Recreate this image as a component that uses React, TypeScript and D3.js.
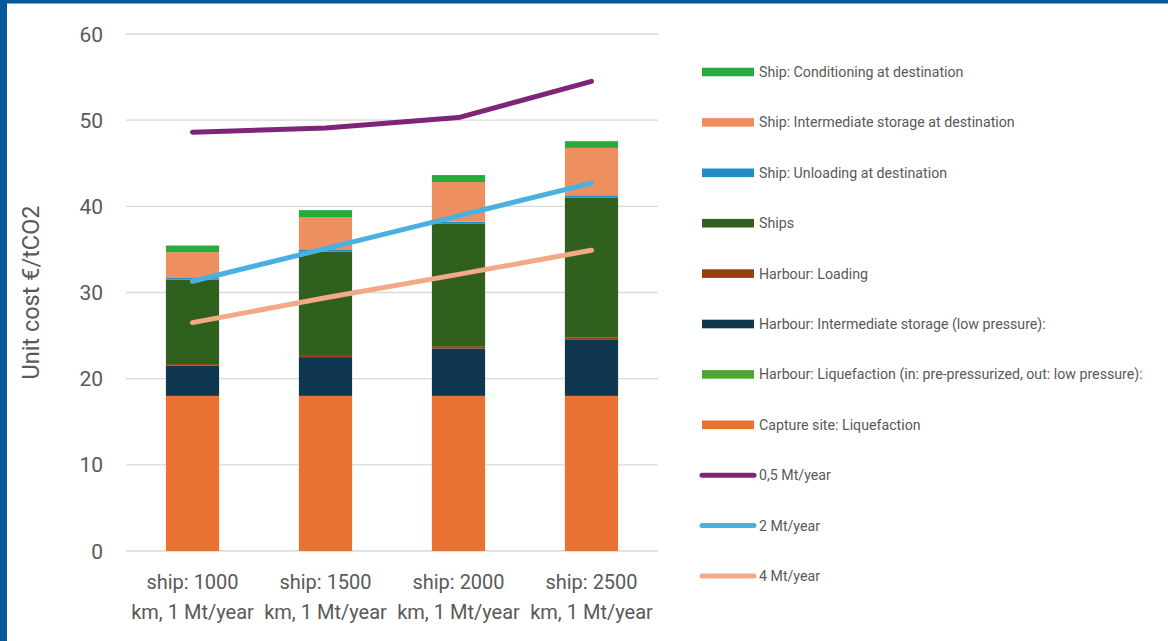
import React from "react";
import * as d3 from "d3";

const categories = [
  "ship: 1000 km, 1 Mt/year",
  "ship: 1500 km, 1 Mt/year",
  "ship: 2000 km, 1 Mt/year",
  "ship: 2500 km, 1 Mt/year",
];

// stacked series, bottom to top
const seriesNames = [
  "Capture site: Liquefaction",
  "Harbour: Liquefaction (in: pre-pressurized, out: low pressure):",
  "Harbour: Intermediate storage (low pressure):",
  "Harbour: Loading",
  "Ships",
  "Ship: Unloading at destination",
  "Ship: Intermediate storage at destination",
  "Ship: Conditioning at destination",
];
const seriesColors = [
  "#E97132",
  "#4EA72E",
  "#0F374F",
  "#973F10",
  "#2F601D",
  "#1F8DC6",
  "#EE8F5F",
  "#2AAA3C",
];

const captureLiquefaction = [18, 18, 18, 18];
const harbourLiquefaction = [0, 0, 0, 0];
const harbourStorage = [3.5, 4.5, 5.5, 6.5];
const harbourLoading = [0.2, 0.25, 0.27, 0.3];
const ships = [9.8, 12.0, 14.2, 16.2];
const shipUnloading = [0.18, 0.26, 0.25, 0.28];
const shipStorage = [3.0, 3.75, 4.6, 5.5];
const shipConditioning = [0.77, 0.8, 0.81, 0.78];

const seriesValues = [
  captureLiquefaction,
  harbourLiquefaction,
  harbourStorage,
  harbourLoading,
  ships,
  shipUnloading,
  shipStorage,
  shipConditioning,
];

const lineNames = ["0,5 Mt/year", "2 Mt/year", "4 Mt/year"];
const lineColors = ["#7E2479", "#49B0E1", "#F3A987"];
const line05 = [48.6, 49.1, 50.3, 54.5];
const line2 = [31.3, 35.1, 38.9, 42.7];
const line4 = [26.5, 29.4, 32.1, 34.9];
const lineValues = [line05, line2, line4];

const yTicks = [0, 10, 20, 30, 40, 50, 60];
const yTitle = "Unit cost €/tCO2";

const FONT = "Roboto, 'Noto Sans', sans-serif";
const TEXT = "#595959";

export default function App() {
  const W = 1168;
  const H = 641;
  const x = d3
    .scaleBand<string>()
    .domain(categories)
    .range([126, 658])
    .paddingInner(0.6)
    .paddingOuter(0.3);
  const y = d3.scaleLinear().domain([0, 60]).range([551, 34]);

  const table = categories.map((c, i) => {
    const row: Record<string, number | string> = { cat: c };
    seriesNames.forEach((s, k) => (row[s] = seriesValues[k][i]));
    return row;
  });
  const stacked = d3.stack<any>().keys(seriesNames)(table);

  const lineGen = d3
    .line<number>()
    .x((_, i) => (x(categories[i]) as number) + x.bandwidth() / 2)
    .y((v) => y(v));

  const legendItems = [
    ...seriesNames
      .map((n, k) => ({ name: n, color: seriesColors[k], type: "rect" }))
      .reverse(),
    ...lineNames.map((n, k) => ({ name: n, color: lineColors[k], type: "line" })),
  ];
  const legendY = d3
    .scalePoint<number>()
    .domain(legendItems.map((_, i) => i))
    .range([72, 576]);

  return (
    <svg
      width={W}
      height={H}
      style={{ position: "absolute", left: 0, top: 0, background: "#fff" }}
      fontFamily={FONT}
    >
      <rect x={0} y={0} width={W} height={H} fill="#fff" />
      {/* frame */}
      <rect x={0} y={0} width={W} height={3.5} fill="#05599B" />
      <rect x={0} y={0} width={7} height={H} fill="#05599B" />

      {/* gridlines */}
      {yTicks.map((t) => (
        <line
          key={t}
          x1={126}
          x2={658}
          y1={y(t)}
          y2={y(t)}
          stroke="#D9D9D9"
          strokeWidth={1.4}
        />
      ))}
      {yTicks.map((t) => (
        <text
          key={"l" + t}
          x={103}
          y={y(t)}
          dy="0.36em"
          textAnchor="end"
          fontSize={21}
          fill={TEXT}
        >
          {t}
        </text>
      ))}
      <text
        transform={`translate(39,${y(30)}) rotate(-90)`}
        textAnchor="middle"
        fontSize={23.5}
        fill={TEXT}
      >
        {yTitle}
      </text>

      {/* bars */}
      {stacked.map((layer, k) => (
        <g key={layer.key} fill={seriesColors[k]}>
          {layer.map((d, i) => (
            <rect
              key={i}
              x={x(categories[i])}
              width={x.bandwidth()}
              y={y(d[1])}
              height={Math.max(0, y(d[0]) - y(d[1]))}
            />
          ))}
        </g>
      ))}

      {/* lines */}
      {lineValues.map((vals, k) => (
        <path
          key={k}
          d={lineGen(vals) as string}
          fill="none"
          stroke={lineColors[k]}
          strokeWidth={5}
          strokeLinecap="round"
          strokeLinejoin="round"
        />
      ))}

      {/* x labels */}
      {categories.map((c) => {
        const m = c.match(/^(ship: \d+) (.*)$/);
        const lines = m ? [m[1], m[2]] : [c];
        const cx = (x(c) as number) + x.bandwidth() / 2;
        return (
          <text key={c} textAnchor="middle" fontSize={20} fill={TEXT}>
            {lines.map((l, j) => (
              <tspan key={j} x={cx} y={589 + j * 30}>
                {l}
              </tspan>
            ))}
          </text>
        );
      })}

      {/* legend */}
      {legendItems.map((it, i) => {
        const cy = legendY(i) as number;
        return (
          <g key={it.name}>
            {it.type === "rect" ? (
              <rect x={702} y={cy - 4.3} width={52} height={8.6} fill={it.color} />
            ) : (
              <line
                x1={702}
                x2={754}
                y1={cy}
                y2={cy}
                stroke={it.color}
                strokeWidth={5}
                strokeLinecap="round"
              />
            )}
            <text x={759} y={cy} dy="0.35em" fontSize={14.2} fill={TEXT}>
              {it.name}
            </text>
          </g>
        );
      })}
    </svg>
  );
}
